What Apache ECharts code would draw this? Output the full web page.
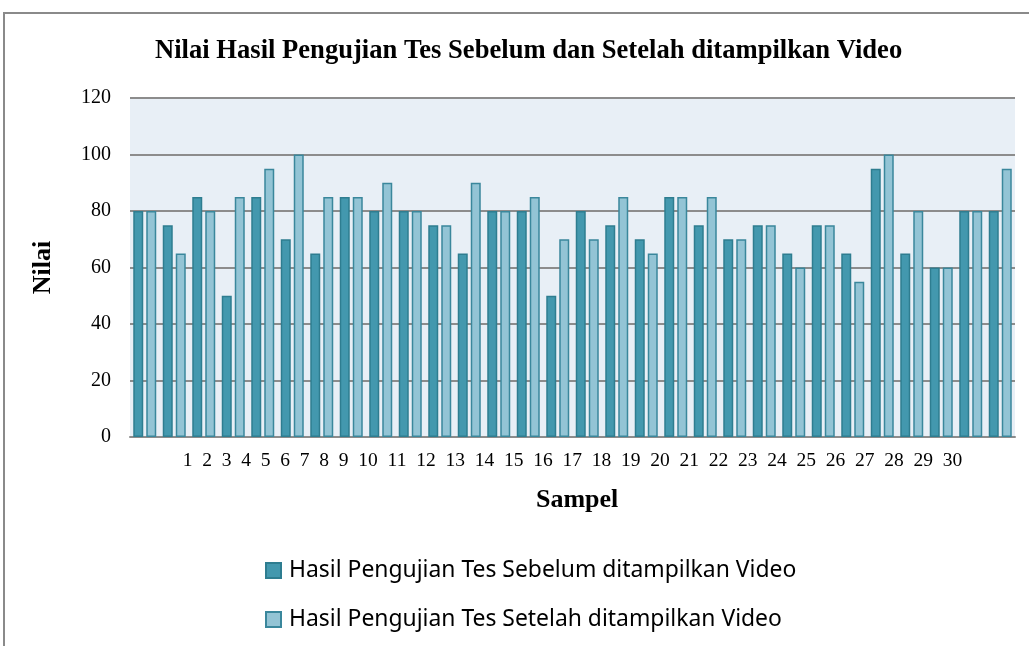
<!DOCTYPE html>
<html>
<head>
<meta charset="utf-8">
<script src="https://cdn.jsdelivr.net/npm/echarts@6/dist/echarts.min.js"></script>
<style>
  html, body { margin: 0; padding: 0; background: #fff; }
  #chart { width: 1029px; height: 646px; }
</style>
</head>
<body>
<div id="chart"></div>
<script>
// samples 1..30
const categories = ['1','2','3','4','5','6','7','8','9','10','11','12','13','14','15',
  '16','17','18','19','20','21','22','23','24','25','26','27','28','29','30'];
const sebelum = [80, 75, 85, 50, 85, 70, 65, 85, 80, 80, 75, 65, 80, 80, 50,
  80, 75, 70, 85, 75, 70, 75, 65, 75, 65, 95, 65, 60, 80, 80];
const setelah = [80, 65, 80, 85, 95, 100, 85, 85, 90, 80, 75, 90, 80, 85, 70,
  70, 85, 65, 85, 85, 70, 75, 60, 75, 55, 100, 80, 60, 80, 95];
const yTicks = [0, 20, 40, 60, 80, 100, 120];

const serif = '"Liberation Serif", "Times New Roman", serif';

// in the source the tick labels sit in one run of text, not under the bars
const labelRow = categories.join('  ');

const chart = echarts.init(document.getElementById('chart'));
chart.setOption({
  animation: false,
  backgroundColor: '#fff',
  title: [
    {
      text: 'Nilai Hasil Pengujian Tes Sebelum dan Setelah ditampilkan Video',
      left: 150, top: 33,
      textStyle: { fontFamily: serif, fontSize: 26.6, fontWeight: 'bold', color: '#000' }
    },
    {
      text: 'Sampel',
      left: 531, top: 482,
      textStyle: { fontFamily: serif, fontSize: 26, fontWeight: 'bold', color: '#000' }
    }
  ],
  graphic: [{
    type: 'rect',
    shape: { x: 4, y: 13, width: 1100, height: 700 },
    style: { fill: 'none', stroke: '#8a8a8a', lineWidth: 2 },
    silent: true
  }],
  legend: {
    orient: 'vertical',
    left: 265, top: 559,
    padding: 0,
    icon: 'rect',
    itemWidth: 15, itemHeight: 15,
    itemGap: 26,
    textStyle: {
      fontFamily: '"Noto Sans", sans-serif', fontSize: 22.9, color: '#000',
      lineHeight: 23, padding: [0, 0, 0, 3]
    },
    data: ['Hasil Pengujian Tes Sebelum ditampilkan Video', 'Hasil Pengujian Tes Setelah ditampilkan Video']
  },
  grid: {
    left: 130, right: 14, top: 98, bottom: 209,
    show: true, backgroundColor: '#e8eff6', borderWidth: 0
  },
  xAxis: [
    {
      type: 'category',
      data: categories,
      axisLine: { lineStyle: { color: '#8c8c8c', width: 2 } },
      axisTick: { show: false },
      axisLabel: { show: false }
    },
    {
      type: 'category',
      position: 'bottom',
      data: [labelRow],
      axisLine: { show: false },
      axisTick: { show: false },
      axisLabel: { margin: 14, fontFamily: serif, fontSize: 19.5, color: '#000' }
    }
  ],
  yAxis: {
    type: 'value',
    min: yTicks[0], max: yTicks[yTicks.length - 1], interval: 20,
    name: 'Nilai',
    nameLocation: 'middle',
    nameRotate: 90,
    nameGap: 74,
    nameTextStyle: { fontFamily: serif, fontSize: 26, fontWeight: 'bold', color: '#000' },
    axisLine: { show: false },
    axisTick: { show: false },
    axisLabel: { margin: 19, fontFamily: serif, fontSize: 20, color: '#000' },
    splitLine: { lineStyle: { color: '#8c8c8c', width: 2 } }
  },
  series: [
    {
      name: 'Hasil Pengujian Tes Sebelum ditampilkan Video',
      type: 'bar',
      data: sebelum,
      barWidth: 10,
      barGap: '30%',
      itemStyle: { color: '#4398ae', borderColor: '#2e7d90', borderWidth: 1.5 }
    },
    {
      name: 'Hasil Pengujian Tes Setelah ditampilkan Video',
      type: 'bar',
      data: setelah,
      barWidth: 10,
      barGap: '30%',
      itemStyle: { color: '#93c4d5', borderColor: '#3a879c', borderWidth: 1.5 }
    }
  ]
});
</script>
</body>
</html>
